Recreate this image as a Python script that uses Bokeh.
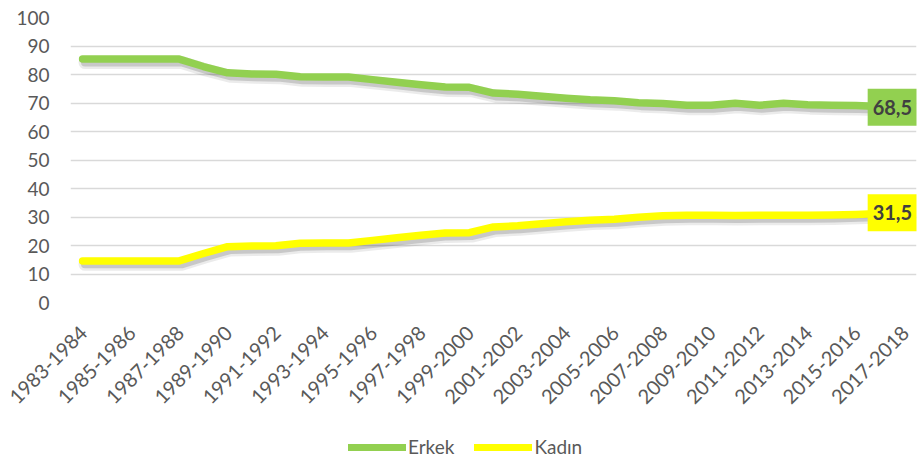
import numpy as np
from bokeh.plotting import figure
from bokeh.layouts import column
from bokeh.models import Range1d, FixedTicker, LinearAxis, Label, Legend, LegendItem
from bokeh.embed import file_html
from bokeh.resources import INLINE

# ---------------- data ----------------
periods = ["1983-1984", "1984-1985", "1985-1986", "1986-1987", "1987-1988",
           "1988-1989", "1989-1990", "1990-1991", "1991-1992", "1992-1993",
           "1993-1994", "1994-1995", "1995-1996", "1996-1997", "1997-1998",
           "1998-1999", "1999-2000", "2000-2001", "2001-2002", "2002-2003",
           "2003-2004", "2004-2005", "2005-2006", "2006-2007", "2007-2008",
           "2008-2009", "2009-2010", "2010-2011", "2011-2012", "2012-2013",
           "2013-2014", "2014-2015", "2015-2016", "2016-2017", "2017-2018"]
erkek = [85.4, 85.4, 85.4, 85.4, 85.4, 82.8, 80.6, 80.2, 80.1, 79.2,
         79.1, 79.1, 78.2, 77.3, 76.4, 75.6, 75.5, 73.5, 73.1, 72.4,
         71.7, 71.1, 70.8, 70.1, 69.8, 69.2, 69.2, 69.9, 69.2, 69.9,
         69.4, 69.2, 69.1, 68.8, 68.5]
kadin = [14.6, 14.6, 14.6, 14.6, 14.6, 17.2, 19.6, 19.8, 19.9, 20.8,
         20.9, 20.9, 21.8, 22.7, 23.6, 24.4, 24.5, 26.5, 26.9, 27.6,
         28.3, 28.9, 29.2, 29.9, 30.4, 30.6, 30.6, 30.5, 30.6, 30.6,
         30.6, 30.7, 30.9, 31.2, 31.5]
y_ticks = [0, 10, 20, 30, 40, 50, 60, 70, 80, 90, 100]
series_names = ["Erkek", "Kadın"]

# ---------------- style ----------------
GREEN = "#92D050"
YELLOW = "#FFFF00"
GRID = "#D9D9D9"
TEXT = "#595959"
LABEL_TEXT = "#404040"
FONT = "Lato"

n = len(periods)
x = np.arange(n)
tick_idx = list(range(0, n, 2))

p = figure(width=924, height=430, output_backend="svg", toolbar_location=None,
           x_range=Range1d(-0.5, n - 0.5), y_range=Range1d(0, 100),
           x_axis_location=None, y_axis_location="left",
           min_border_left=70, min_border_top=17, min_border_right=8,
           min_border_bottom=128)
p.outline_line_color = None
p.background_fill_color = "white"
p.border_fill_color = "white"
p.xgrid.visible = False

# y axis
p.yaxis.ticker = FixedTicker(ticks=y_ticks)
p.yaxis.axis_line_color = None
p.yaxis.major_tick_line_color = None
p.yaxis.minor_tick_line_color = None
p.yaxis.major_tick_out = 0
p.yaxis.major_label_standoff = 21
p.yaxis.major_label_text_font = FONT
p.yaxis.major_label_text_font_size = "19px"
p.yaxis.major_label_text_color = TEXT
p.ygrid.ticker = FixedTicker(ticks=y_ticks)
p.ygrid.grid_line_color = GRID
p.ygrid.grid_line_width = 1.4

# x axis (labels slightly offset like Excel's rotated labels)
shift = 0.05
p.extra_x_ranges = {"lab": Range1d(-0.5 - shift, n - 0.5 - shift)}
xa = LinearAxis(x_range_name="lab", ticker=FixedTicker(ticks=tick_idx),
                major_label_overrides={i: periods[i] for i in tick_idx},
                major_label_orientation=np.pi / 4,
                axis_line_color=None, major_tick_line_color=None,
                minor_tick_line_color=None, major_tick_out=0, major_tick_in=0,
                major_label_standoff=27,
                major_label_text_font=FONT, major_label_text_font_size="20px",
                major_label_text_color=TEXT)
p.add_layout(xa, "below")

# shadows
for vals in (erkek, kadin):
    sx = x + 0.1
    sy = np.array(vals) - 1.2
    p.line(sx, sy, line_color="black", line_alpha=0.08, line_width=13,
           line_cap="round", line_join="round")
    p.line(sx, sy, line_color="black", line_alpha=0.15, line_width=8,
           line_cap="round", line_join="round")

p.line(x, erkek, line_color=GREEN, line_width=7.5, line_cap="round", line_join="round")
p.line(x, kadin, line_color=YELLOW, line_width=7.5, line_cap="round", line_join="round")

# end labels
for vals, col in ((erkek, GREEN), (kadin, YELLOW)):
    txt = f"{vals[-1]:.1f}".replace(".", ",")
    p.add_layout(Label(x=x[-1], y=vals[-1], text=txt, x_offset=-12,
                       text_align="center", text_baseline="middle",
                       text_font=FONT, text_font_size="20px", text_font_style="bold",
                       text_color=LABEL_TEXT, background_fill_color=col,
                       background_fill_alpha=1.0,
                       padding=dict(left=5, right=5, top=11, bottom=11)))

# ---------------- legend strip ----------------
# the strip's ranges are far from the data, so its own copies of the lines stay
# out of view; they only supply the legend swatches
lg = figure(width=924, height=31, output_backend="svg", toolbar_location=None,
            x_range=Range1d(1000, 1001), y_range=Range1d(1000, 1001),
            x_axis_location=None, y_axis_location=None, min_border=0)
lg.outline_line_color = None
lg.background_fill_color = "white"
lg.border_fill_color = "white"
lg.xgrid.visible = False
lg.ygrid.visible = False
l1 = lg.line(x, erkek, line_color=GREEN, line_width=7, line_cap="round")
l2 = lg.line(x, kadin, line_color=YELLOW, line_width=7, line_cap="round")
legend = Legend(items=[LegendItem(label=series_names[0], renderers=[l1]),
                       LegendItem(label=series_names[1], renderers=[l2])],
                orientation="horizontal", location=(278, 3),
                glyph_width=58, glyph_height=20, label_height=20,
                label_standoff=2, spacing=20, padding=0, margin=0,
                label_text_font=FONT, label_text_font_size="19px",
                label_text_color=TEXT, background_fill_alpha=0,
                border_line_color=None)
lg.add_layout(legend, "center")

layout = column(p, lg, spacing=0)
open("out.html", "w").write(file_html(layout, INLINE))
